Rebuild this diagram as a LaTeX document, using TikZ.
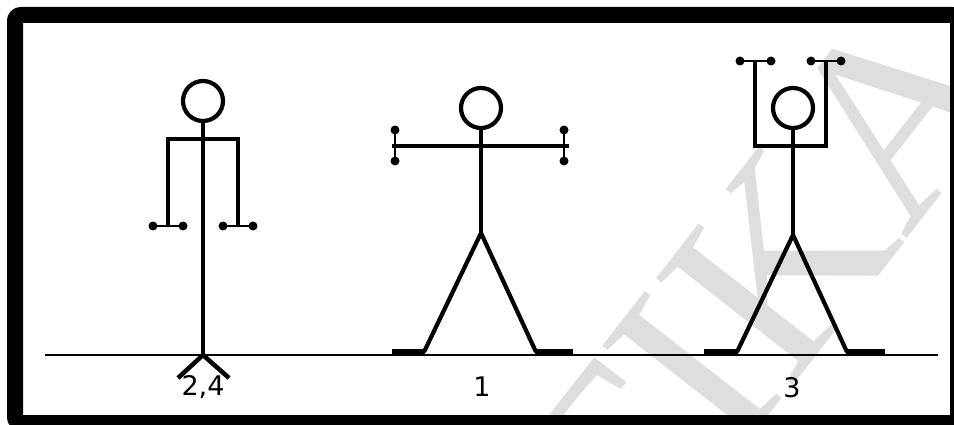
\documentclass[tikz,border=0pt]{standalone}
\usepackage{fontspec}
\setsansfont{DejaVu Sans}
\newfontfamily\markfont{Liberation Serif}
\begin{document}
\begin{tikzpicture}[x=1pt,y=-1pt,
  limb/.style={line width=4.2pt, line cap=butt, line join=miter},
  headring/.style={line width=4.2pt},
  foot/.style={line width=5.5pt},
  bar/.style={line width=2.8pt},
  weight/.style={fill=black},
  label/.style={font=\sffamily\fontsize{27}{27}\selectfont, inner sep=0pt, anchor=center}]
\useasboundingbox (0,0) rectangle (954,425);
\clip (0,0) rectangle (954,425);
\fill[white] (0,0) rectangle (954,425);

% faint lettering behind the figures
\begin{scope}
  \clip (23,23) rectangle (950,415);
  \node[text=black!13, rotate=52, inner sep=0pt,
        font=\markfont\fontsize{265}{265}\selectfont] (mark) at (760,285) {TIKA};
\end{scope}

% ground
\draw[line width=2pt] (45,355) -- (938,355);

% ---- figure "2,4": arms down, weights at the hips
\draw[headring] (203,101) circle (20);
\draw[limb] (203,121) -- (203,355);
\draw[limb] (168,226) -- (168,139) -- (238,139) -- (238,226);
\draw[bar] (153,226) -- (183,226);
\draw[bar] (223,226) -- (253,226);
\foreach \x in {153,183,223,253} \fill[weight] (\x,226) circle (4.5);
\draw[limb, line width=4.5pt] (178,378) -- (203,355) -- (229,378);
\node[label] (l24) at (203,387) {2,4};

% ---- figure "1": arms out to the sides
\draw[headring] (481,108) circle (20);
\draw[limb] (481,128) -- (481,233);
\draw[limb] (392,146) -- (569,146);
\draw[bar] (395,130) -- (395,161);
\draw[bar] (564,130) -- (564,161);
\foreach \y in {130,161} {\fill[weight] (395,\y) circle (4.5); \fill[weight] (564,\y) circle (4.5);}
\draw[limb] (424,352) -- (481,233) -- (536,352);
\draw[foot] (392,352) -- (425,352);
\draw[foot] (535,352) -- (573,352);
\node[label] (l1) at (482,387) {1};

% ---- figure "3": arms raised overhead
\draw[headring] (793,108) circle (20);
\draw[limb] (793,128) -- (793,235);
\draw[limb] (755,61) -- (755,146) -- (826,146) -- (826,61);
\draw[bar] (740,61) -- (771,61);
\draw[bar] (811,61) -- (841,61);
\foreach \x in {740,771,811,841} \fill[weight] (\x,61) circle (4.5);
\draw[limb] (737,352) -- (793,235) -- (847,352);
\draw[foot] (704,352) -- (738,352);
\draw[foot] (846,352) -- (885,352);
\node[label] (l3) at (792,388) {3};

% heavy outer frame
\draw[line width=16pt, rounded corners=6pt] (15,15) rectangle (958,423);
\end{tikzpicture}
\end{document}
